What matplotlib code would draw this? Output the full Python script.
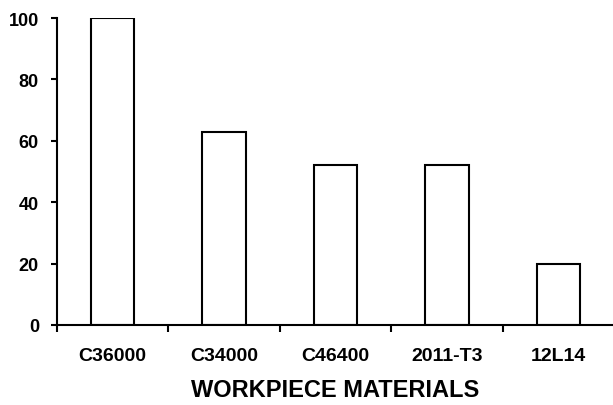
import matplotlib.pyplot as plt
from matplotlib.ticker import FixedLocator

plt.rcParams['font.family'] = ['Liberation Sans', 'DejaVu Sans']
plt.rcParams['font.weight'] = 'bold'

materials = ["C36000", "C34000", "C46400", "2011-T3", "12L14"]
values = [100, 63, 52, 52, 20]
y_ticks = [0, 20, 40, 60, 80, 100]

fig = plt.figure(figsize=(6.13, 4.06), dpi=100)
ax = fig.add_axes([57 / 613, 80 / 406, 557 / 613, 307 / 406])

centers = [i + 0.5 for i in range(len(materials))]
ax.bar(centers, values, width=0.39, color="white", edgecolor="black", linewidth=1.5)

ax.set_xlim(0, len(materials))
ax.set_ylim(0, 100)

for side in ("top", "right"):
    ax.spines[side].set_visible(False)
for side in ("left", "bottom"):
    ax.spines[side].set_linewidth(1.5)

ax.set_yticks(y_ticks)
ax.tick_params(axis="y", length=4, width=1.5, pad=9, labelsize=13)

# labels sit under the bars, ticks mark the category boundaries
ax.set_xticks(centers)
ax.set_xticklabels(materials)
ax.xaxis.set_minor_locator(FixedLocator(range(len(materials))))
ax.tick_params(axis="x", which="major", length=0, pad=16, labelsize=14)
ax.tick_params(axis="x", which="minor", length=5, width=1.5)

ax.set_xlabel("WORKPIECE MATERIALS", fontsize=17, fontweight="bold", labelpad=10)

fig.savefig("out.png", dpi=100)
